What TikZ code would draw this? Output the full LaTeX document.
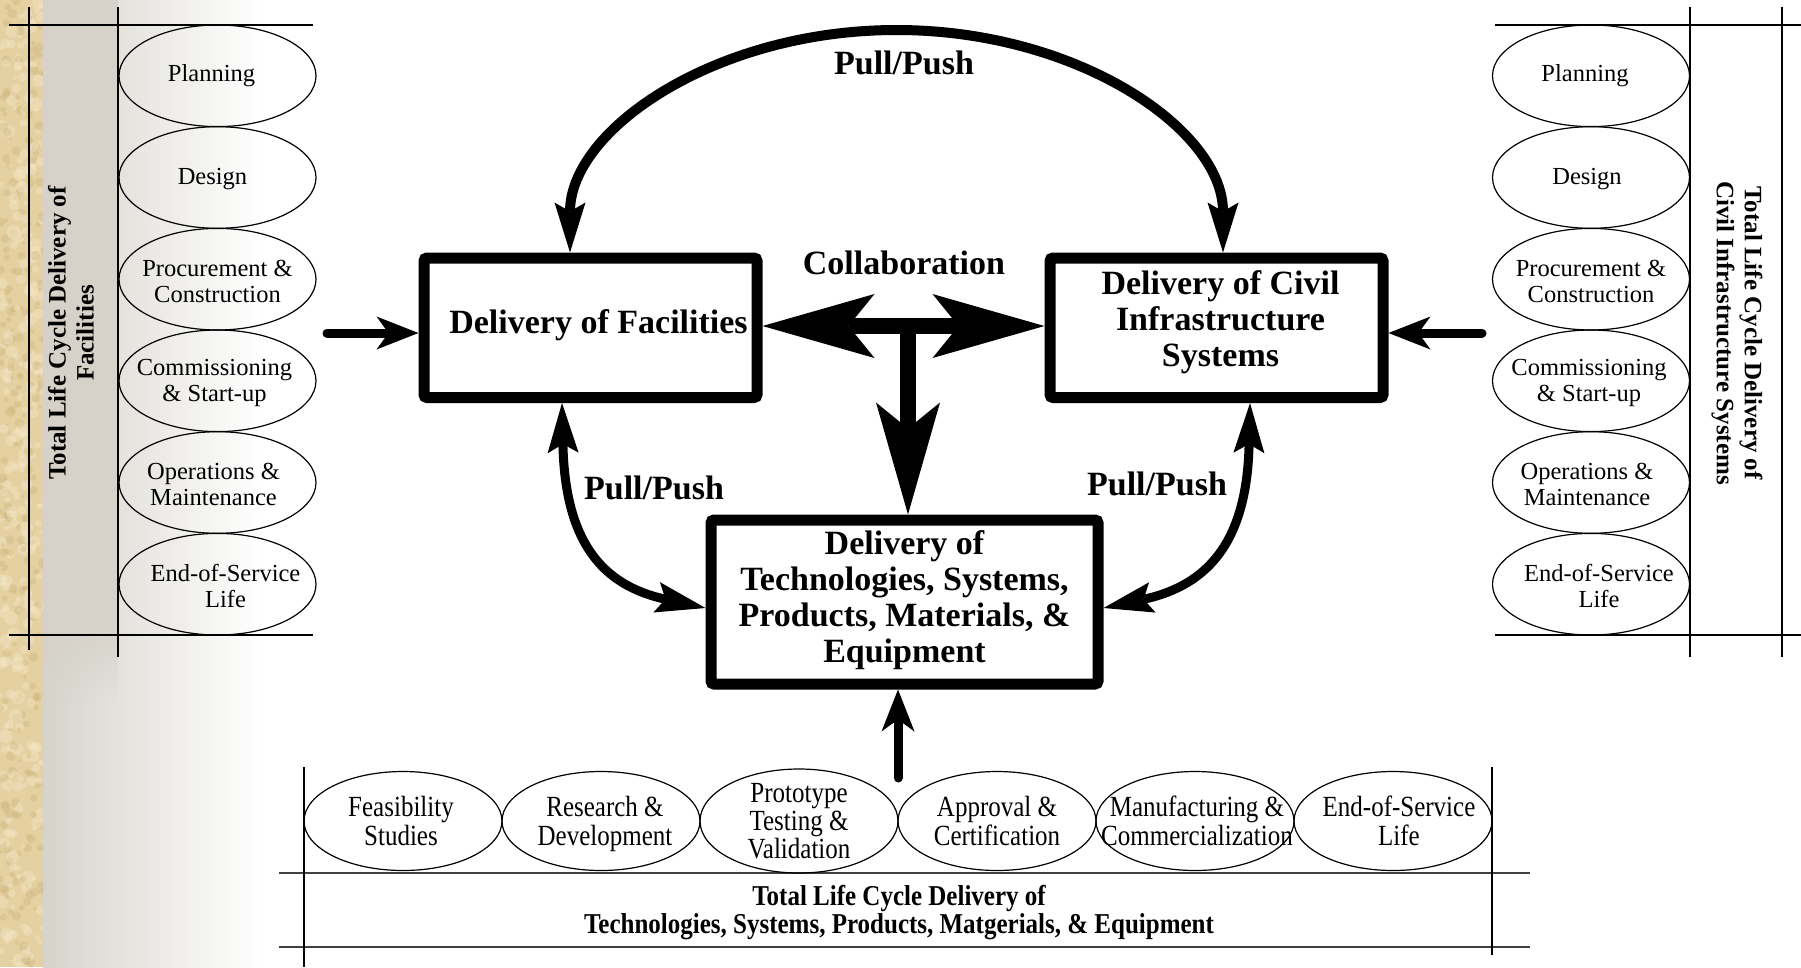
\documentclass[tikz,border=0pt]{standalone}
\usepackage{fontspec}
\setmainfont{Liberation Serif}
\usetikzlibrary{arrows.meta,shapes.geometric,calc,fadings}
\definecolor{strip}{HTML}{E4D0A0}
\definecolor{stripL}{HTML}{F5E8C6}
\definecolor{stripD}{HTML}{CDB27A}
\definecolor{band}{HTML}{D6D2CA}
\definecolor{grad}{HTML}{D6D3CB}
\newcommand\stk[1]{\begin{tabular}{@{}c@{}}#1\end{tabular}}
\newcommand\tallstk[1]{\scalebox{1}[1.17]{\stk{#1}}}
\tikzset{
  inTip/.tip={Stealth[length=42pt,width=33pt,inset=12pt,line width=0pt]},
  ppTip/.tip={Stealth[length=50pt,width=31pt,inset=9pt,line width=0pt]},
  bigTip/.tip={Stealth[length=112pt,width=64pt,inset=26pt,line width=0pt]},
}
\begin{document}
\begin{tikzpicture}[x=1pt,y=-1pt,
  thinln/.style={line width=1.3pt},
  box/.style={draw, line width=11pt, rounded corners=3pt, inner sep=0pt},
  boxtxt/.style={align=center, inner sep=0pt, font=\fontsize{34}{36}\selectfont\bfseries},
  lbl/.style={font=\fontsize{34}{37}\selectfont\bfseries, inner sep=0pt},
  ell/.style={draw, ellipse, line width=1.2pt, minimum width=197pt, minimum height=101.6pt, inner sep=0pt},
  etxt/.style={inner sep=0pt, align=center, font=\fontsize{24.5}{26.4}\selectfont},
  bell/.style={draw, ellipse, line width=1.2pt, minimum width=198pt, minimum height=99pt, inner sep=0pt},
  btxt/.style={inner sep=0pt, font=\fontsize{25}{23.6}\selectfont},
  side/.style={align=center, inner sep=0pt, font=\fontsize{25}{28}\selectfont\bfseries},
  inarrow/.style={line width=9pt, line cap=round, -inTip},
  pp/.style={line width=9pt, ppTip-ppTip},
  bigarrow/.style={line width=16pt},
]
\useasboundingbox (0,0) rectangle (1801,967);
% background
\fill[white] (0,0) rectangle (1801,967);
\shade[left color=grad, right color=white] (43,0) rectangle (262,967);
\fill[band] (43,0) rectangle (118,620);
\fill[band, path fading=south] (43,620) rectangle (118,700);
\fill[strip] (0,0) rectangle (43,967);
\pgfmathsetseed{7}
\begin{scope}
\clip (0,0) rectangle (43,967);
\foreach \i in {1,...,260}{
  \pgfmathsetmacro\xx{rnd*43}\pgfmathsetmacro\yy{rnd*967}\pgfmathsetmacro\rr{2+rnd*5}
  \fill[stripL, opacity=0.45] (\xx,\yy) circle[radius=\rr];
  \pgfmathsetmacro\xa{rnd*43}\pgfmathsetmacro\ya{rnd*967}\pgfmathsetmacro\ra{1.5+rnd*3.5}
  \fill[stripD, opacity=0.35] (\xa,\ya) circle[radius=\ra];
}
\end{scope}

% left panel lines
\draw[thinln] (9,25) -- (313,25);
\draw[thinln] (9,635) -- (313,635);
\draw[thinln] (29,7) -- (29,650);
\draw[thinln] (118,7) -- (118,657);
% right panel lines
\draw[thinln] (1495,25) -- (1801,25);
\draw[thinln] (1495,635) -- (1801,635);
\draw[thinln] (1690,7) -- (1690,657);
\draw[thinln] (1782,7) -- (1782,657);
% bottom panel lines
\draw[line width=2pt, black!75] (279,873) -- (1530,873);
\draw[line width=2pt, black!75] (279,947) -- (1530,947);
\draw[thinln] (304,767) -- (304,967);
\draw[thinln] (1492,767) -- (1492,955);

% side labels
\node[side, rotate=90] (sideL) at (71,333) {Total Life Cycle Delivery of\\Facilities};
\node[side, rotate=-90] (sideR) at (1737,333) {Total Life Cycle Delivery of\\Civil Infrastructure Systems};

% left ellipses
\node[ell] (L1) at (217.5,75.8) {};
\node[ell] (L2) at (217.5,177.5) {};
\node[ell] (L3) at (217.5,279.2) {};
\node[ell] (L4) at (217.5,380.8) {};
\node[ell] (L5) at (217.5,482.5) {};
\node[ell] (L6) at (217.5,584.2) {};
\node[etxt] (L1t) at ($(L1)+(-6,0)$) {Planning};
\node[etxt] (L2t) at ($(L2)+(-5,2)$) {Design};
\node[etxt] (L3t) at ($(L3)+(0,2)$) {Procurement \&\\Construction};
\node[etxt] (L4t) at ($(L4)+(-3,2)$) {Commissioning\\\& Start-up};
\node[etxt] (L5t) at ($(L5)+(-4,2)$) {Operations \&\\Maintenance};
\node[etxt] (L6t) at ($(L6)+(8,2)$) {End-of-Service\\Life};
% right ellipses
\node[ell] (R1) at (1591,75.8) {};
\node[ell] (R2) at (1591,177.5) {};
\node[ell] (R3) at (1591,279.2) {};
\node[ell] (R4) at (1591,380.8) {};
\node[ell] (R5) at (1591,482.5) {};
\node[ell] (R6) at (1591,584.2) {};
\node[etxt] (R1t) at ($(R1)+(-6,0)$) {Planning};
\node[etxt] (R2t) at ($(R2)+(-4,2)$) {Design};
\node[etxt] (R3t) at ($(R3)+(0,2)$) {Procurement \&\\Construction};
\node[etxt] (R4t) at ($(R4)+(-2,2)$) {Commissioning\\\& Start-up};
\node[etxt] (R5t) at ($(R5)+(-4,2)$) {Operations \&\\Maintenance};
\node[etxt] (R6t) at ($(R6)+(8,2)$) {End-of-Service\\Life};
% bottom ellipses
\node[bell] (B1) at (403,821) {};
\node[bell] (B2) at (601,821) {};
\node[bell, minimum height=104pt] (B3) at (799,821) {};
\node[bell] (B4) at (997,821) {};
\node[bell] (B5) at (1195,821) {};
\node[bell] (B6) at (1393,821) {};
\node[btxt] (B1t) at ($(B1)+(-2,4)$) {\tallstk{Feasibility\\Studies}};
\node[btxt] (B2t) at ($(B2)+(4,4)$) {\tallstk{Research \&\\Development}};
\node[btxt] (B3t) at ($(B3)+(0,4)$) {\tallstk{Prototype\\Testing \&\\Validation}};
\node[btxt] (B4t) at ($(B4)+(0,4)$) {\tallstk{Approval \&\\Certification}};
\node[btxt] (B5t) at ($(B5)+(2,4)$) {\tallstk{Manufacturing \&\\Commercialization}};
\node[btxt] (B6t) at ($(B6)+(6,4)$) {\tallstk{End-of-Service\\Life}};
% bottom title
\node[inner sep=0pt, font=\fontsize{25}{22.2}\selectfont\bfseries] (btitle) at (899,913)
  {\scalebox{1}[1.15]{\stk{Total Life Cycle Delivery of\\Technologies, Systems, Products, Matgerials, \& Equipment}}};

% main boxes
\node[box, minimum width=333pt, minimum height=139.5pt] (fac) at (590.5,327.75) {};
\node[box, minimum width=333pt, minimum height=139.5pt] (civ) at (1216.5,327.75) {};
\node[box, minimum width=387pt, minimum height=164pt] (tech) at (904.5,602) {};
\node[boxtxt] (facT) at ($(fac)+(8,-2.5)$) {Delivery of Facilities};
\node[boxtxt] (civT) at ($(civ)+(4,-6)$) {Delivery of Civil\\Infrastructure\\Systems};
\node[boxtxt] (techT) at ($(tech)+(0,-2)$) {Delivery of\\Technologies, Systems,\\Products, Materials, \&\\Equipment};

% labels
\node[lbl] (pptop) at (904,63) {Pull/Push};
\node[lbl] (collab) at (904,263) {Collaboration};
\node[lbl] (ppleft) at (654,488) {Pull/Push};
\node[lbl] (ppright) at (1157,484) {Pull/Push};

% input arrows
\coordinate (inL) at (327,333);
\coordinate (inR) at (1482,333);
\coordinate (inB) at (898,778);
\draw[inarrow] (inL) -- (inL -| fac.west);
\draw[inarrow] (inR) -- (inR -| civ.east);
\draw[inarrow] (inB) -- (inB |- tech.south);

% collaboration arrows
\coordinate (hub) at (908,326);
\draw[bigarrow, bigTip-bigTip] (hub -| fac.east) -- (hub -| civ.west);
\draw[bigarrow, -bigTip] (hub) -- (hub |- tech.north);

% top pull/push arc
\draw[line width=10pt, ppTip-ppTip] ([xshift=-20.5pt]fac.north) .. controls +(0,-122.9) and (715.4,30) .. (896.5,30)
   .. controls (1077.6,30) and +(0,-122.9) .. ([xshift=6.5pt]civ.north);
% side pull/push curves
\draw[pp] ([xshift=-28.5pt]fac.south) .. controls +(3,137) and +(-105,-23) .. ([yshift=-6pt]tech.west);
\draw[pp] ([xshift=33.5pt]civ.south) .. controls +(-3,137) and +(106,-23) .. ([yshift=-6pt]tech.east);
\end{tikzpicture}
\end{document}
